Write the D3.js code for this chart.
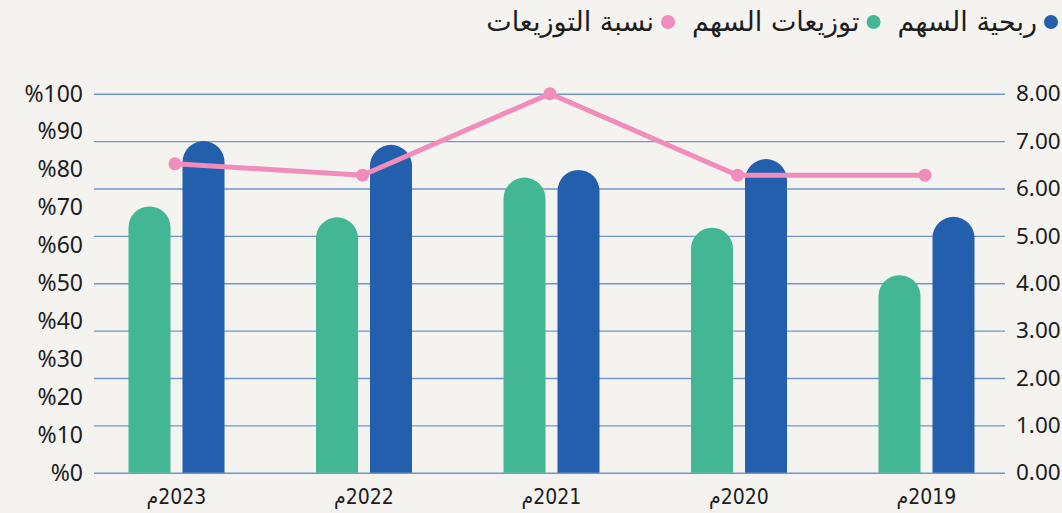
<!DOCTYPE html>
<html>
<head>
<meta charset="utf-8">
<script src="https://cdn.jsdelivr.net/npm/d3@7"></script>
<style>
  html, body { margin: 0; padding: 0; background: #f4f3ef; }
  svg text { fill: #1c1c1c; }
</style>
</head>
<body>
<div id="plot"></div>
<script>
// chart values
const years = ['2023', '2022', '2021', '2020', '2019'];
const eps = [7.00, 6.92, 6.39, 6.62, 5.40];          // ربحية السهم
const dps = [5.62, 5.39, 6.23, 5.17, 4.17];          // توزيعات السهم
const payout = [81.5, 78.5, 100, 78.5, 78.5];        // نسبة التوزيعات
const leftTicks = [0, 10, 20, 30, 40, 50, 60, 70, 80, 90, 100];
const rightTicks = [0, 1, 2, 3, 4, 5, 6, 7, 8];
const legendItems = [
  { label: 'ربحية السهم', color: '#235fad' },
  { label: 'توزيعات السهم', color: '#43b794' },
  { label: 'نسبة التوزيعات', color: '#f08dbb' }
];

window.addEventListener('load', main);

function main(){
  let [ W, H ] = [1062, 513];
  let svg = d3.select('#plot').append('svg')
              .attr('width', W).attr('height', H);

  // scales
  let scX = d3.scaleBand().domain(years).range([82.75, 1020.25]);
  let scSub = d3.scaleBand().domain(['dps', 'eps']).range([-48, 48]).paddingInner(0.2222);
  let scR = d3.scaleLinear().domain([0, 8]).range([472.7, 93.7]);
  let scL = d3.scaleLinear().domain([0, 100]).range([472.7, 93.7]);

  // right axis draws the grid lines
  let rAxis = svg.append('g')
      .attr('transform', 'translate(1005,0)')
      .call(d3.axisRight(scR).tickValues(rightTicks).tickSize(-911).tickPadding(11)
              .tickFormat(d3.format('.2f')));
  rAxis.select('.domain').remove();
  rAxis.selectAll('line').attr('stroke', '#6f97cc').attr('stroke-width', 1.4);
  rAxis.selectAll('text').attr('font-family', 'Noto Sans').attr('font-size', 22.5)
       .attr('fill', '#1c1c1c');

  // left axis, labels only
  let lAxis = svg.append('g')
      .attr('transform', 'translate(83,0)')
      .call(d3.axisLeft(scL).tickValues(leftTicks).tickSize(0).tickPadding(0)
              .tickFormat(d => '%' + d));
  lAxis.select('.domain').remove();
  lAxis.selectAll('text').attr('font-family', 'Noto Sans').attr('font-size', 23)
       .attr('fill', '#1c1c1c');

  // bars with a round top
  let roundBar = function(x, y, w, bottom){
    let r = w / 2;
    return `M${x},${bottom} L${x},${y + r} A${r},${r} 0 0 1 ${x + w},${y + r} L${x + w},${bottom} Z`;
  };
  let bw = scSub.bandwidth();
  let bars = svg.append('g');
  years.forEach((yr, i) => {
    let cx = scX(yr) + scX.bandwidth() / 2;
    bars.append('path')
        .attr('d', roundBar(cx + scSub('dps'), scR(dps[i]), bw, scR(0)))
        .attr('fill', '#43b794');
    bars.append('path')
        .attr('d', roundBar(cx + scSub('eps'), scR(eps[i]), bw, scR(0)))
        .attr('fill', '#235fad');
  });

  // payout line
  let pts = years.map((yr, i) => [scX(yr) + scX.bandwidth() / 2 - 1.5, scL(payout[i])]);
  svg.append('path')
     .attr('d', d3.line()(pts))
     .attr('fill', 'none').attr('stroke', '#f08dbb').attr('stroke-width', 5);
  svg.append('g').selectAll('circle').data(pts).join('circle')
     .attr('cx', d => d[0]).attr('cy', d => d[1]).attr('r', 6.5)
     .attr('fill', '#f08dbb');

  // x labels
  svg.append('g').selectAll('text').data(years).join('text')
     .attr('x', d => scX(d) + scX.bandwidth() / 2)
     .attr('y', 504)
     .attr('text-anchor', 'middle')
     .attr('direction', 'rtl')
     .style('direction', 'rtl')
     .attr('font-family', 'Liberation Sans Narrow, DejaVu Sans Condensed, sans-serif')
     .attr('font-size', 21)
     .text(d => d + 'م');

  // legend (right to left)
  let lg = svg.append('g').attr('font-family', 'DejaVu Sans').attr('font-size', 27);
  let cxDot = 1051;
  legendItems.forEach(item => {
    lg.append('circle').attr('cx', cxDot).attr('cy', 22).attr('r', 7).attr('fill', item.color);
    let t = lg.append('text').attr('x', cxDot - 14).attr('y', 31)
              .attr('text-anchor', 'end').text(item.label);
    let w = t.node().getComputedTextLength();
    cxDot = cxDot - 14 - w - 24;
  });
}
</script>
</body>
</html>
